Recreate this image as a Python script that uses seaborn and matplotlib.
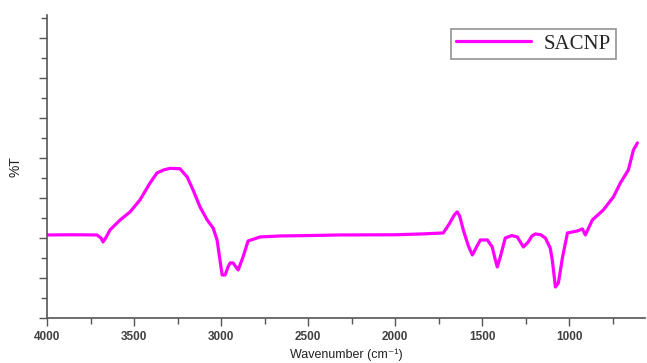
import pandas as pd
import matplotlib.pyplot as plt
import seaborn as sns
from matplotlib.ticker import MultipleLocator, NullFormatter

# FTIR spectrum
wavenumber = [4000, 3850, 3713, 3690, 3678, 3660, 3638, 3580, 3523, 3466, 3408, 3368, 3330,
              3293, 3236, 3195, 3161, 3121, 3080, 3046, 3023, 3005, 2994, 2977, 2960,
              2948, 2931, 2902, 2874, 2845, 2776, 2661, 2500, 2316, 2000, 1850, 1724,
              1690, 1660, 1644, 1630, 1609, 1580, 1557, 1530, 1511, 1471, 1443, 1425, 1414, 1395,
              1368, 1330, 1299, 1264, 1236, 1215, 1195, 1165, 1138, 1110, 1098, 1080, 1063, 1040, 1011,
              954, 925, 908, 868, 805, 747, 707, 661, 632, 609]
transmittance = [20.75, 20.8, 20.75, 20.0, 19.0, 20.2, 22.0, 24.5, 26.5, 29.5, 33.75, 36.25, 37.0,
                 37.4, 37.3, 35.25, 32.0, 27.75, 24.5, 22.5, 19.5, 14.0, 10.75, 10.75, 12.8,
                 13.75, 13.75, 12.0, 15.25, 19.25, 20.25, 20.5, 20.6, 20.75, 20.8, 21.0, 21.25,
                 23.5, 25.8, 26.5, 25.5, 22.0, 18.0, 15.75, 18.0, 19.5, 19.5, 17.75, 14.5, 12.75, 15.5,
                 20.0, 20.6, 20.25, 17.75, 19.0, 20.5, 21.0, 20.8, 20.0, 17.5, 14.5, 7.75, 8.75, 15.0, 21.25,
                 21.75, 22.25, 20.75, 24.5, 27.0, 30.25, 33.75, 37.0, 42.0, 43.75]

df = pd.DataFrame({'Wavenumber': wavenumber, 'T': transmittance})

sns.set_theme(style="ticks")
plt.rcParams['font.family'] = ['Liberation Sans', 'DejaVu Sans']

fig = plt.figure(figsize=(6.47, 3.63), dpi=100)
ax = fig.add_axes([0.0726, 0.124, 0.925, 0.835])

sns.lineplot(data=df, x='Wavenumber', y='T', sort=False, color='#ff00ff',
             linewidth=2.3, label='SACNP', ax=ax)
ax.lines[0].set_solid_joinstyle('round')

ax.set_xlim(4000, 563)
ax.set_ylim(0, 75.75)
ax.xaxis.set_major_locator(MultipleLocator(500))
ax.xaxis.set_minor_locator(MultipleLocator(250))
ax.yaxis.set_major_locator(MultipleLocator(10))
ax.yaxis.set_minor_locator(MultipleLocator(5))
ax.yaxis.set_major_formatter(NullFormatter())

for s in ['top', 'right']:
    ax.spines[s].set_visible(False)
for s in ['left', 'bottom']:
    ax.spines[s].set_color('#555555')
    ax.spines[s].set_linewidth(1.2)

ax.tick_params(axis='both', which='major', length=6, width=1, color='#555555',
               labelsize=8.5, labelcolor='#404040', direction='out')
ax.tick_params(axis='both', which='minor', length=4, width=1, color='#555555', direction='out')
for lbl in ax.get_xticklabels():
    lbl.set_fontweight('bold')

ax.set_xlabel('Wavenumber (cm⁻¹)', fontsize=9, color='#222222', labelpad=4)
ax.set_ylabel('%T', fontsize=10, color='#222222', labelpad=8)

leg = ax.legend(loc='upper right', bbox_to_anchor=(0.962, 0.975), fancybox=False,
                prop={'family': 'Liberation Serif', 'size': 15}, handlelength=3.6,
                borderpad=0.25, handletextpad=0.6, borderaxespad=0.3)
leg.get_frame().set_edgecolor('#777777')
leg.get_frame().set_linewidth(1.2)
leg.get_lines()[0].set_linewidth(2.3)

plt.savefig('out.png', dpi=100)
